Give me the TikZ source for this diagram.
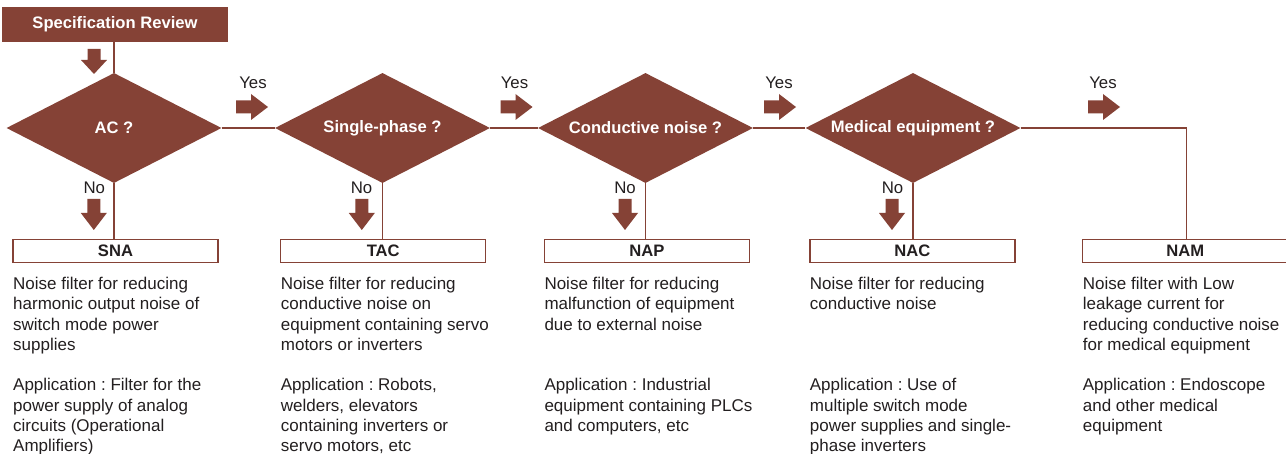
\documentclass[tikz,border=0pt]{standalone}
\usepackage{fontspec}
\setmainfont{Liberation Sans}
\usetikzlibrary{shapes.geometric,calc}
\definecolor{brn}{RGB}{133,66,54}
\definecolor{ink}{RGB}{35,31,32}
\frenchspacing
\tikzset{
  lbl/.style={font=\fontsize{16.6pt}{19pt}\bfseries\selectfont, inner sep=0},
  specbox/.style={lbl, fill=brn, text=white, minimum width=226pt, minimum height=35pt},
  decide/.style={lbl, diamond, fill=brn, text=white, minimum width=215pt, minimum height=110pt, aspect=1.95},
  prodbox/.style={lbl, draw=brn, line width=1.5pt, fill=white, text=ink, minimum width=205pt, minimum height=23.4pt},
  desc/.style={font=\fontsize{17pt}{20.3pt}\selectfont, text=ink, align=left, anchor=north west, inner sep=0},
  yn/.style={font=\fontsize{16.8pt}{19pt}\selectfont, text=ink, inner sep=0},
  conn/.style={draw=brn, line width=1.5pt},
  pics/fatright/.style={code={\fill[brn] (-16,-6.5) -- (-1,-6.5) -- (-1,-13) -- (16,0) -- (-1,13) -- (-1,6.5) -- (-16,6.5) -- cycle;}},
  pics/fatdown/.style={code={\fill[brn] (-6.5,-15.5) -- (6.5,-15.5) -- (6.5,-1.5) -- (13,-1.5) -- (0,15.5) -- (-13,-1.5) -- (-6.5,-1.5) -- cycle;}},
  pics/fatdownshort/.style={code={\fill[brn] (-6.5,-12.5) -- (6.5,-12.5) -- (6.5,-1.5) -- (13,-1.5) -- (0,12.5) -- (-13,-1.5) -- (-6.5,-1.5) -- cycle;}},
}
\newcommand{\fs}{\rule{0pt}{14pt}}
\begin{document}
\begin{tikzpicture}[x=1pt,y=-1pt]
\useasboundingbox[fill=white] (0,0) rectangle (1286,454);

% start box
\node[specbox] (spec) at (115,24.5) {Specification Review};

% decisions
\node[decide] (d1) at (114,128) {\makebox[0pt]{AC ?}};
\node[decide] (d2) at (382.5,128) {\makebox[0pt]{Single-phase ?}};
\node[decide] (d3) at (645.5,128) {\makebox[0pt]{Conductive noise ?}};
\node[decide] (d4) at (913,128) {\makebox[0pt]{Medical equipment ?}};

% product boxes
\node[prodbox] (b1) at (115.5,251) {SNA};
\node[prodbox] (b2) at (383.2,251) {TAC};
\node[prodbox] (b3) at (646.8,251) {NAP};
\node[prodbox] (b4) at (912.3,251) {NAC};
\node[prodbox] (b5) at (1185.2,251) {NAM};

% connectors
\draw[conn] (d1.north |- spec.south) -- (d1.north);
\draw[conn] (d1.east) -- (d2.west);
\draw[conn] (d2.east) -- (d3.west);
\draw[conn] (d3.east) -- (d4.west);
\coordinate (corner) at (1186.7,128);
\draw[conn] (d4.east) -- (corner) -- (corner |- b5.north);
\draw[conn] (d1.south) -- (d1.south |- b1.north);
\draw[conn] (d2.south) -- (d2.south |- b2.north);
\draw[conn] (d3.south) -- (d3.south |- b3.north);
\draw[conn] (d4.south) -- (d4.south |- b4.north);

% fat arrows
\pic at (94,61.5) {fatdownshort};
\pic at (93.8,214.5) {fatdown};
\pic at (361.8,214.5) {fatdown};
\pic at (625,214.5) {fatdown};
\pic at (892,214.5) {fatdown};
\pic at (252,107) {fatright};
\pic at (516.5,107) {fatright};
\pic at (780,107) {fatright};
\pic at (1104,107) {fatright};

% yes / no labels
\node[yn] (y1) at (253,82.8) {Yes};
\node[yn] (y2) at (514.5,82.8) {Yes};
\node[yn] (y3) at (779,82.8) {Yes};
\node[yn] (y4) at (1103,82.8) {Yes};
\node[yn] (n1) at (94.3,187.5) {No};
\node[yn] (n2) at (361.5,187.5) {No};
\node[yn] (n3) at (625,187.5) {No};
\node[yn] (n4) at (892.5,187.5) {No};

% descriptions
\node[desc] (t1) at (13,275.3) {\fs Noise filter for reducing\\harmonic output noise of\\switch mode power\\supplies};
\node[desc] (a1) at (13,376.7) {\fs Application : Filter for the\\power supply of analog\\circuits (Operational\\Amplifiers)};
\node[desc] (t2) at (280.7,275.3) {\fs Noise filter for reducing\\conductive noise on\\equipment containing servo\\motors or inverters};
\node[desc] (a2) at (280.7,376.7) {\fs Application : Robots,\\welders, elevators\\containing inverters or\\servo motors, etc};
\node[desc] (t3) at (544.3,275.3) {\fs Noise filter for reducing\\malfunction of equipment\\due to external noise};
\node[desc] (a3) at (544.3,376.7) {\fs Application : Industrial\\equipment containing PLCs\\and computers, etc};
\node[desc] (t4) at (809.7,275.3) {\fs Noise filter for reducing\\conductive noise};
\node[desc] (a4) at (809.7,376.7) {\fs Application : Use of\\multiple switch mode\\power supplies and single-\\phase inverters};
\node[desc] (t5) at (1082.7,275.3) {\fs Noise filter with Low\\leakage current for\\reducing conductive noise\\for medical equipment};
\node[desc] (a5) at (1082.7,376.7) {\fs Application : Endoscope\\and other medical\\equipment};
\end{tikzpicture}
\end{document}
